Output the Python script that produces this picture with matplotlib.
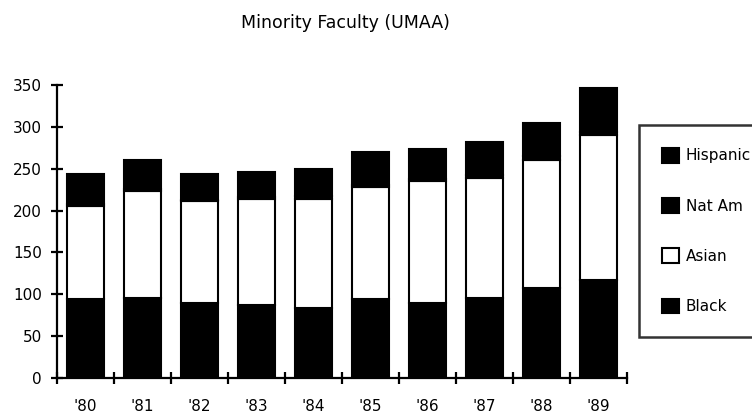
import matplotlib.pyplot as plt
import numpy as np

plt.rcParams['font.family'] = ['DejaVu Sans']

# Datos
years = ["'80", "'81", "'82", "'83", "'84", "'85", "'86", "'87", "'88", "'89"]
black = [94, 96, 89, 87, 84, 94, 89, 95, 107, 117]
asian = [111, 127, 122, 127, 130, 134, 146, 144, 154, 173]
nat_am = [3, 3, 2, 2, 3, 3, 3, 3, 4, 4]
hispanic = [36, 34, 31, 30, 33, 39, 36, 40, 40, 52]

x = np.arange(len(years))
w = 0.65

fig = plt.figure(figsize=(7.52, 4.13), dpi=100)
ax = fig.add_axes([57 / 752, 35 / 413, 570 / 752, 293 / 413])

b1 = np.array(black)
b2 = b1 + np.array(asian)
b3 = b2 + np.array(nat_am)

kw = dict(width=w, edgecolor='black', linewidth=1.5)
p_black = ax.bar(x, black, color='black', label='Black', **kw)
p_asian = ax.bar(x, asian, bottom=b1, color='white', label='Asian', **kw)
p_nat = ax.bar(x, nat_am, bottom=b2, color='black', label='Nat Am', **kw)
p_hisp = ax.bar(x, hispanic, bottom=b3, color='black', label='Hispanic', **kw)

ax.set_xlim(-0.5, len(years) - 0.5)
ax.set_ylim(0, 350)
ax.set_yticks(range(0, 351, 50))
ax.set_xticks(x)
ax.set_xticklabels(years)
ax.set_xticks(np.arange(-0.5, len(years)), minor=True)

for s in ['top', 'right']:
    ax.spines[s].set_visible(False)
for s in ['left', 'bottom']:
    ax.spines[s].set_linewidth(1.6)

ax.tick_params(axis='y', direction='inout', length=9, width=1.6, pad=6.5, labelsize=11)
ax.tick_params(axis='x', which='major', length=0, pad=15, labelsize=11)
ax.tick_params(axis='x', which='minor', direction='inout', length=8, width=1.6)

fig.text(345 / 752, 1 - 23 / 413, 'Minority Faculty (UMAA)', ha='center', va='center', fontsize=12.5)

leg = fig.legend(handles=[p_hisp, p_nat, p_asian, p_black],
                 labels=['Hispanic', 'Nat Am', 'Asian', 'Black'],
                 loc='upper left', bbox_to_anchor=(639 / 752, 1 - 125 / 413),
                 fontsize=11, frameon=True, fancybox=False, edgecolor='black',
                 handlelength=1.1, handleheight=1.1, handletextpad=0.45,
                 labelspacing=2.27, borderpad=1.5, borderaxespad=0)
leg.get_frame().set_linewidth(1.8)

fig.savefig('out.png', dpi=100)
